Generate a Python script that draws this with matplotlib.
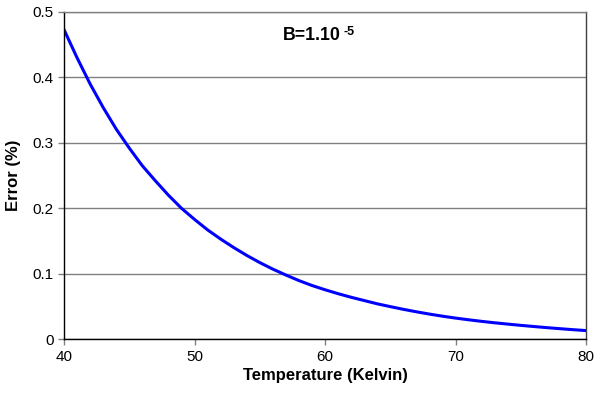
import numpy as np
import matplotlib
matplotlib.use("Agg")
import matplotlib.pyplot as plt

plt.rcParams['font.family'] = ['Liberation Sans', 'DejaVu Sans']

# values, one per kelvin
temperature = list(range(40, 81))
error = [0.473, 0.430, 0.390, 0.354, 0.321, 0.292, 0.265, 0.242, 0.220, 0.200,
         0.183, 0.167, 0.153, 0.140, 0.128, 0.117, 0.107, 0.098, 0.0895, 0.082,
         0.0755, 0.0695, 0.064, 0.059, 0.054, 0.0497, 0.0456, 0.0418, 0.0383, 0.0351,
         0.0322, 0.0296, 0.0272, 0.025, 0.023, 0.0211, 0.0193, 0.0176, 0.0160, 0.0145,
         0.0131]

fig = plt.figure(figsize=(5.95, 3.93), dpi=100)
ax = fig.add_axes([0.1076, 0.137, 0.8774, 0.8325])

ax.plot(temperature, error, color='#0000ff', linewidth=2.2, solid_joinstyle='round')

ax.set_xlim(40, 80)
ax.set_ylim(0, 0.5)
ax.set_xticks([40, 50, 60, 70, 80])
ax.set_yticks([0, 0.1, 0.2, 0.3, 0.4, 0.5])
ax.set_yticklabels(['0', '0.1', '0.2', '0.3', '0.4', '0.5'])
ax.yaxis.grid(True, color='#808080', linewidth=1)
ax.set_axisbelow(True)
ax.tick_params(direction='out', length=4, width=1, labelsize=11, color='#808080')

ax.spines['left'].set_color('black')
ax.spines['bottom'].set_color('black')
ax.spines['top'].set_color('#808080')
ax.spines['right'].set_color('#404040')
for s in ax.spines.values():
    s.set_linewidth(1)

ax.set_xlabel('Temperature (Kelvin)', fontsize=12, fontweight='bold', labelpad=3)
ax.set_ylabel('Error (%)', fontsize=12, fontweight='bold', labelpad=8)

t = ax.text(56.8, 0.464, 'B=1.10', fontsize=12.8, fontweight='bold',
            va='center', ha='left')
ax.annotate('-5', xy=(1, 1), xycoords=t, xytext=(1.5, 1), textcoords='offset points',
            fontsize=9, fontweight='bold', va='top', ha='left')

fig.savefig('out.png', dpi=100)
